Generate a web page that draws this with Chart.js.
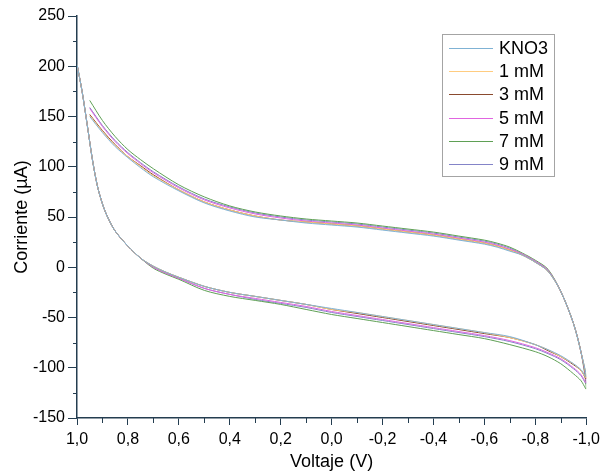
<!DOCTYPE html>
<html>
<head>
<meta charset="utf-8">
<script src="https://cdn.jsdelivr.net/npm/chart.js@4/dist/chart.umd.min.js"></script>
<style>
html,body{margin:0;padding:0;background:#fff;}
#wrap{width:605px;height:475px;}
</style>
</head>
<body>
<div id="wrap"><canvas id="c" width="605" height="475"></canvas></div>
<script>
// Voltage sweep (V): upper branch from 0.95 to -0.98, then tip and lower branch from -1.0 back to 1.0
const voltage = [
  0.95, 0.9, 0.85, 0.8, 0.75, 0.7, 0.6, 0.5, 0.4, 0.3, 0.2, 0.1, 0.0, -0.1, -0.2, -0.3, -0.4, -0.5, -0.6, -0.65, -0.7, -0.75, -0.8, -0.85, -0.9, -0.95, -0.98,
  -1.0, -0.98, -0.95, -0.9, -0.85, -0.8, -0.7, -0.6, -0.5, -0.4, -0.3, -0.2, -0.1, 0.0, 0.1, 0.2, 0.3, 0.4, 0.5, 0.6, 0.65, 0.7, 0.75, 0.8, 0.85, 0.88, 0.9, 0.92, 0.94, 0.96, 0.98, 1.0
];

const seriesNames = ['KNO3', '1 mM', '3 mM', '5 mM', '7 mM', '9 mM'];

const kno3 = [
  150,134,120,109,99,90,76,64,56,50,47,44,42,40,37,34,31,27,23,20,16,12,5,-4,-24,-56,-85,
  -109,-102,-96,-88,-82,-77,-69,-65,-61,-57,-53,-49,-45,-41,-37,-33,-29,-25,-19,-10,-5,1,9,21,36,50,63,81,108,142,175,202
];
const mM1 = [
  151,135,121,110,100,91,77,65,57,51,47,45,43,41,38,35,32,28,24,21,17,12,5,-4,-24,-56,-85,
  -110,-103,-96,-89,-82,-77,-70,-65,-61,-57,-53,-49,-45,-42,-37,-33,-29,-25,-19,-10,-5,1,9,21,36,50,63,81,108,142,175,202
];
const mM3 = [
  152,136,122,110,101,92,77,65,57,51,47,45,43,41,38,35,32,28,24,21,17,12,5,-4,-24,-56,-85,
  -111,-103,-97,-89,-83,-77,-70,-66,-62,-58,-54,-50,-46,-42,-37,-33,-29,-25,-19,-10,-5,1,9,21,36,50,63,81,108,142,175,202
];
const mM5 = [
  158,140,125,113,103,94,79,67,59,53,49,46,44,42,39,36,33,29,25,22,18,13,6,-3,-24,-56,-85,
  -115,-107,-100,-91,-85,-80,-73,-68,-64,-60,-56,-52,-48,-44,-39,-35,-31,-27,-21,-11,-6,0,9,21,36,50,63,81,108,142,175,202
];
const mM7 = [
  166,146,130,117,107,98,82,70,61,55,51,48,46,44,41,38,35,31,27,24,20,14,7,-2,-24,-56,-85,
  -121,-113,-106,-96,-89,-84,-77,-71,-67,-63,-59,-55,-51,-47,-42,-37,-33,-29,-23,-12,-7,-1,9,21,36,50,63,81,108,142,175,202
];
const mM9 = [
  159,141,126,114,104,95,80,68,60,54,50,47,45,43,40,37,34,30,26,23,19,13,6,-3,-24,-56,-85,
  -116,-108,-101,-92,-86,-81,-74,-69,-65,-61,-57,-53,-49,-45,-40,-36,-32,-27,-21,-11,-6,0,9,21,36,50,63,81,108,142,175,202
];

const seriesValues = [kno3, mM1, mM3, mM5, mM7, mM9];
const seriesColors = ['#7fb2d4', '#ffcc80', '#8a4a2e', '#e065e0', '#5fa055', '#8484c8'];

const xTicks = [1.0, 0.8, 0.6, 0.4, 0.2, 0.0, -0.2, -0.4, -0.6, -0.8, -1.0];
const yTicks = [250, 200, 150, 100, 50, 0, -50, -100, -150];

const AXIS = '#243d50';
const FONT = "'Liberation Sans', Arial, sans-serif";

const datasets = seriesNames.map((name, i) => ({
  label: name,
  data: voltage.map((v, k) => ({x: v, y: seriesValues[i][k]})),
  borderColor: seriesColors[i],
  backgroundColor: seriesColors[i],
  borderWidth: 1,
  pointRadius: 0,
  showLine: true,
  tension: 0.3,
  fill: false
}));

const extras = {
  id: 'extras',
  afterDraw(chart) {
    const ctx = chart.ctx;
    const xs = chart.scales.x, ys = chart.scales.y;
    ctx.save();
    // minor ticks
    ctx.strokeStyle = AXIS;
    ctx.lineWidth = 1;
    for (let v = -0.9; v <= 0.91; v += 0.2) {
      const px = Math.round(xs.getPixelForValue(v)) + 0.5;
      ctx.beginPath();
      ctx.moveTo(px, ys.bottom);
      ctx.lineTo(px, ys.bottom + 5);
      ctx.stroke();
    }
    for (let v = -125; v <= 225; v += 50) {
      const py = Math.round(ys.getPixelForValue(v)) + 0.5;
      ctx.beginPath();
      ctx.moveTo(xs.left - 4, py);
      ctx.lineTo(xs.left, py);
      ctx.stroke();
    }
    // legend box
    const bx = 442.5, by = 34.5, bw = 112, bh = 142;
    ctx.fillStyle = '#ffffff';
    ctx.fillRect(bx, by, bw, bh);
    ctx.strokeStyle = '#a4a4a4';
    ctx.lineWidth = 1;
    ctx.strokeRect(bx, by, bw, bh);
    ctx.font = '18px ' + FONT;
    ctx.textBaseline = 'middle';
    ctx.textAlign = 'left';
    chart.data.datasets.forEach((ds, i) => {
      const cy = 48 + i * 23.2;
      ctx.strokeStyle = ds.borderColor;
      ctx.lineWidth = 1.2;
      ctx.beginPath();
      ctx.moveTo(449, Math.round(cy) + 0.5);
      ctx.lineTo(493, Math.round(cy) + 0.5);
      ctx.stroke();
      ctx.fillStyle = '#000';
      ctx.fillText(ds.label, 499, cy + 1);
    });
    ctx.restore();
  }
};

const fmt = v => (Math.abs(v) < 1e-9 ? 0 : v).toFixed(1).replace('.', ',');

new Chart(document.getElementById('c'), {
  type: 'scatter',
  data: { datasets },
  plugins: [extras],
  options: {
    responsive: false,
    animation: false,
    devicePixelRatio: 1,
    layout: { padding: { top: 16, right: 17, left: 0, bottom: 0 } },
    plugins: { legend: { display: false }, tooltip: { enabled: false } },
    scales: {
      x: {
        type: 'linear',
        reverse: true,
        min: -1, max: 1,
        afterBuildTicks: s => { s.ticks = xTicks.map(v => ({value: v})); },
        afterFit: s => { s.height = 57; },
        ticks: { callback: v => fmt(v), color: '#000', font: { family: FONT, size: 16 }, padding: 5, maxRotation: 0, autoSkip: false },
        grid: { drawOnChartArea: false, tickLength: 7, color: AXIS, tickColor: AXIS },
        border: { color: AXIS, width: 1.5 },
        title: { display: true, text: 'Voltaje (V)', color: '#000', font: { family: FONT, size: 18 }, padding: { top: 0, bottom: 2 } }
      },
      y: {
        min: -150, max: 250,
        afterBuildTicks: s => { s.ticks = yTicks.map(v => ({value: v})); },
        afterFit: s => { s.width = 77; },
        ticks: { color: '#000', font: { family: FONT, size: 16 }, padding: 3, autoSkip: false },
        grid: { drawOnChartArea: false, tickLength: 9, color: AXIS, tickColor: AXIS },
        border: { color: AXIS, width: 1.5 },
        title: { display: true, text: 'Corriente (\u00b5A)', color: '#000', font: { family: FONT, size: 18 }, padding: { top: 11, bottom: 0 } }
      }
    }
  }
});
</script>
</body>
</html>
